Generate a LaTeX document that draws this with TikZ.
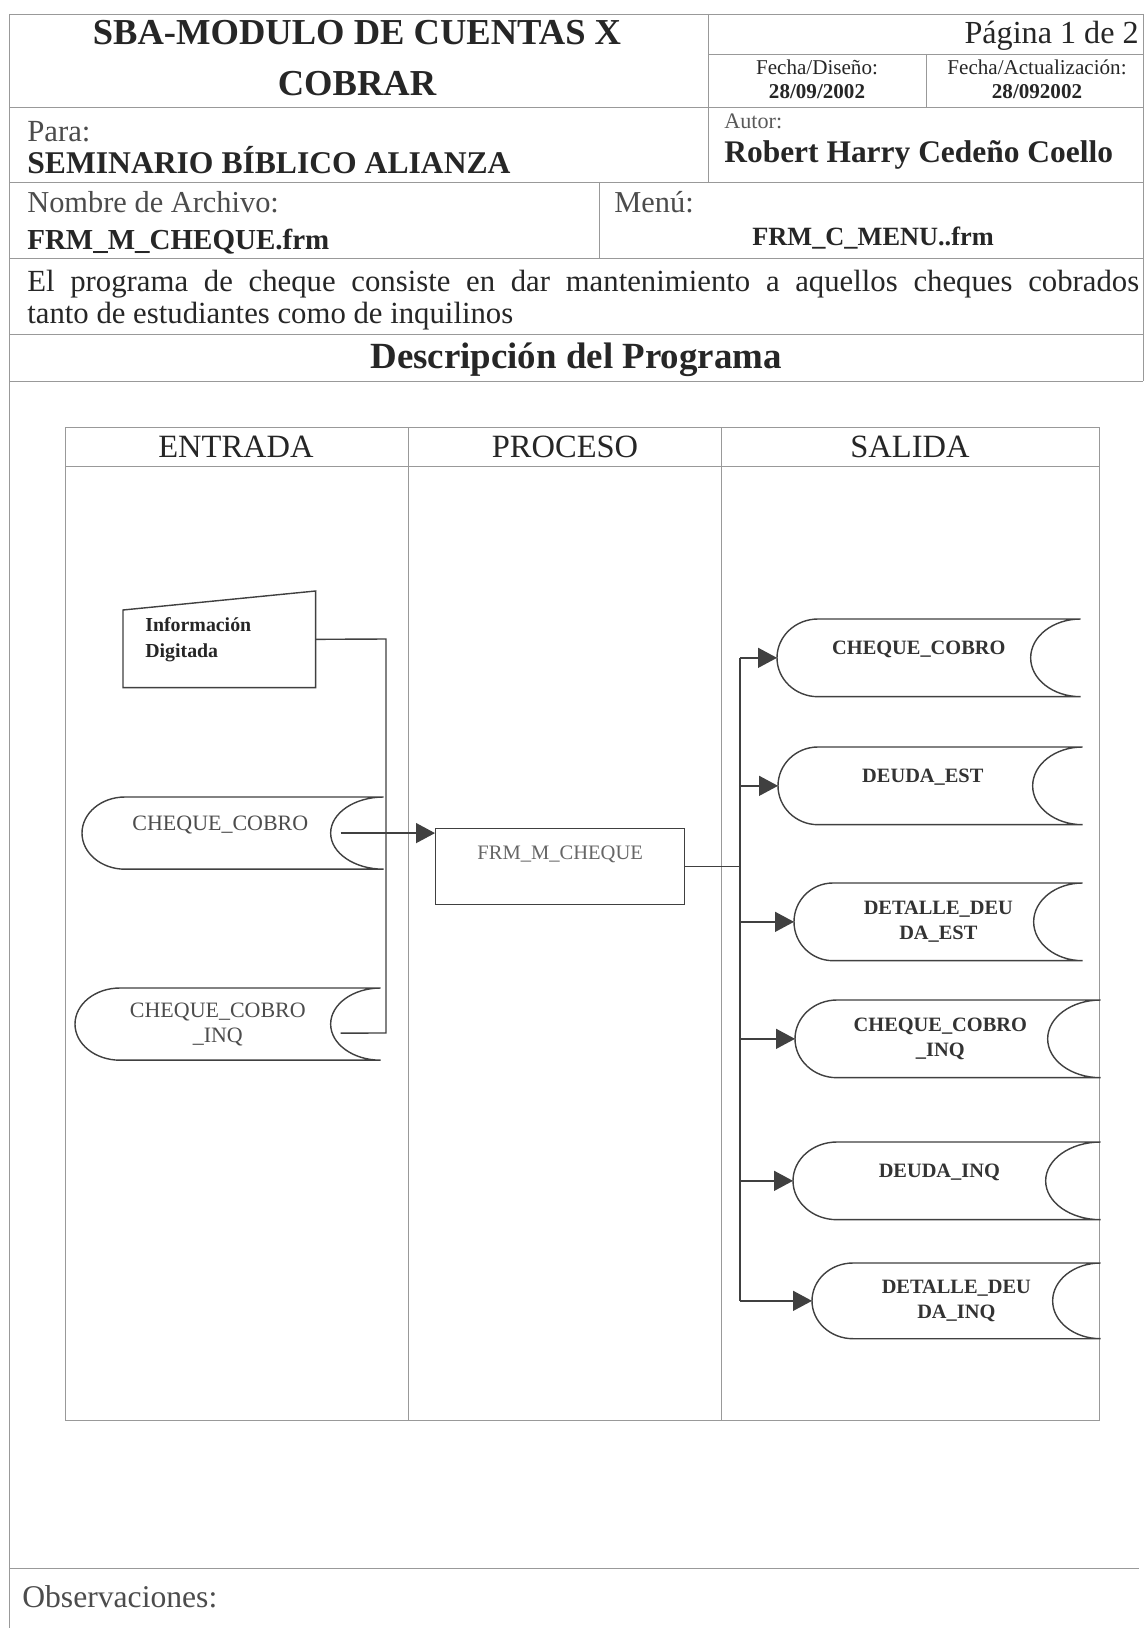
\documentclass[tikz,border=0pt]{standalone}
\usepackage{fontspec}
\setmainfont{Liberation Serif}
\usetikzlibrary{arrows.meta,calc,positioning}

\newcommand{\tam}[2]{\fontsize{#1}{#2}\selectfont}

\tikzset{
  marco/.style={draw=black!40, line width=0.5pt},
  linea/.style={draw=black!75, line width=0.8pt},
  flecha/.style={linea, -{Triangle[length=0.38cm, width=0.4cm]}},
  texto/.style={inner sep=0pt, text=black!85},
  almacen/.style={anchor=north west, inner sep=0pt, minimum height=1.54cm, align=center, text=black!80, font=\tam{11.6}{14.2}\bfseries},
  entalm/.style={almacen, minimum height=1.43cm, text=black!70, font=\tam{12.5}{14.2}},
  unalinea/.style={text depth=0.4cm},
  proceso/.style={draw=black!75, line width=0.8pt, anchor=north west, minimum width=4.98cm, minimum height=1.52cm, inner sep=0pt, text depth=0.56cm, text=black!60, font=\tam{11.7}{14}}
}

\begin{document}
\begin{tikzpicture}[x=0.02cm, y=0.02cm]
\path[fill=white] (0,0) rectangle (1145,-1628);
\useasboundingbox (0,0) rectangle (1145,-1628);

% cabecera
\draw[marco] (9,-14) -- (1143,-14);
\draw[marco] (9,-14) -- (9,-1628);
\draw[marco] (1143,-14) -- (1143,-381);
\draw[marco] (708,-14) -- (708,-182);
\draw[marco] (708,-54) -- (1143,-54);
\draw[marco] (926,-54) -- (926,-107);
\foreach \y in {107,182,258,334,381} \draw[marco] (9,-\y) -- (1143,-\y);
\draw[marco] (599,-182) -- (599,-258);
\draw[marco] (9,-1568) -- (1139,-1568);

\node[texto, font=\tam{20.8}{29}\bfseries, align=center] (titulo) at (357,-58.5) {SBA-MODULO DE CUENTAS X\\COBRAR};
\node[texto, anchor=base east, font=\tam{18.3}{22}] (pagina) at (1139,-44) {Página 1 de 2};
\node[texto, anchor=base, font=\tam{12}{14}] (fdis) at (817,-75) {Fecha/Diseño:};
\node[texto, anchor=base, font=\tam{12}{14}\bfseries] (fdisv) at (817,-99) {28/09/2002};
\node[texto, anchor=base, font=\tam{12}{14}] (fact) at (1037,-75) {Fecha/Actualización:};
\node[texto, anchor=base, font=\tam{12}{14}\bfseries] (factv) at (1037,-99) {28/092002};
\node[texto, anchor=base west, text=black!65, font=\tam{12.6}{15}] (autor) at (724,-129) {Autor:};
\node[texto, anchor=base west, font=\tam{17.9}{21}\bfseries] (autorv) at (724,-163) {Robert Harry Cedeño Coello};
\node[texto, anchor=base west, text=black!70, font=\tam{17.5}{21}] (para) at (27,-142) {Para:};
\node[texto, anchor=base west, font=\tam{18}{22}\bfseries] (parav) at (27,-174) {SEMINARIO BÍBLICO ALIANZA};
\node[texto, anchor=base west, text=black!70, font=\tam{17.3}{21}] (archivo) at (27,-213) {Nombre de Archivo:};
\node[texto, anchor=base west, font=\tam{16.5}{21}\bfseries] (archivov) at (27,-250) {FRM\_M\_CHEQUE.frm};
\node[texto, anchor=base west, text=black!70, font=\tam{17.3}{21}] (menu) at (614,-213) {Menú:};
\node[texto, anchor=base, font=\tam{15}{18}\bfseries] (menuv) at (873,-246) {FRM\_C\_MENU..frm};
\node[texto, anchor=north west, text width=22.24cm, align=justify, font=\tam{17.5}{18.2}] (desc) at (27,-270) {El programa de cheque consiste en dar mantenimiento a aquellos cheques cobrados\linebreak tanto de estudiantes como de inquilinos};
\node[texto, anchor=base, font=\tam{21}{25}\bfseries] (seccion) at (576,-369) {Descripción del Programa};
\node[texto, anchor=base west, text=black!70, font=\tam{18}{21}] (observ) at (22,-1607) {Observaciones:};

% carriles
\draw[marco] (65,-427) rectangle (1099,-1420);
\draw[marco] (65,-466) -- (1099,-466);
\draw[marco] (408,-427) -- (408,-1420);
\draw[marco] (721,-427) -- (721,-1420);
\node[texto, anchor=base, font=\tam{18.5}{22}] (hent) at (236,-457) {ENTRADA};
\node[texto, anchor=base, font=\tam{18.5}{22}] (hpro) at (565,-457) {PROCESO};
\node[texto, anchor=base, font=\tam{18.5}{22}] (hsal) at (910,-457) {SALIDA};

% entrada
\node[texto, anchor=north west, minimum width=3.84cm, minimum height=1.92cm, text width=2.96cm, inner xsep=0.44cm, align=left, font=\tam{11.3}{14.8}\bfseries] (ent1) at (123,-591) {Información\\Digitada};
\draw[linea] ($(ent1.north west)+(0,-19)$) -- (ent1.north east) -- (ent1.south east) -- (ent1.south west) -- cycle;
\node[entalm, unalinea, minimum width=6.02cm] (ent2) at (82,-797) {CHEQUE\_COBRO\hspace*{0.5cm}};
\node[entalm, minimum width=6.1cm] (ent3) at (75,-988) {CHEQUE\_COBRO\hspace*{0.4cm}\\\_INQ\hspace*{0.4cm}};

% proceso
\node[proceso] (proc) at (435,-828) {FRM\_M\_CHEQUE};

% salida
\node[almacen, unalinea, minimum width=6.06cm] (sal1) at (777,-619) {CHEQUE\_COBRO\hspace*{0.4cm}};
\node[almacen, unalinea, minimum width=6.08cm] (sal2) at (778,-747) {DEUDA\_EST\hspace*{0.3cm}};
\node[almacen, minimum width=5.76cm] (sal3) at (794,-883) {DETALLE\_DEU\\DA\_EST};
\node[almacen, minimum width=6.1cm] (sal4) at (795,-1000) {CHEQUE\_COBRO\hspace*{0.3cm}\\\_INQ\hspace*{0.3cm}};
\node[almacen, unalinea, minimum width=6.14cm] (sal5) at (793,-1142) {DEUDA\_INQ\hspace*{0.3cm}};
\node[almacen, minimum width=5.76cm, minimum height=1.5cm] (sal6) at (812,-1263) {DETALLE\_DEU\\DA\_INQ};

\foreach \nodo/\bul/\con in {ent2/0.86/1.06, ent3/0.9/1.0, sal1/0.82/1.0, sal2/0.8/1.0, sal3/0.78/0.98, sal4/0.84/1.06, sal5/0.88/1.1, sal6/0.82/0.96}
  \draw[linea] let \p1=($(\nodo.north)-(\nodo.south)$) in ($(\nodo.north west)+(\bul cm,0)$) -- (\nodo.north east)
    arc[start angle=90, end angle=270, x radius=\con cm, y radius=0.5*\y1]
    -- ($(\nodo.south west)+(\bul cm,0)$)
    arc[start angle=270, end angle=90, x radius=\bul cm, y radius=0.5*\y1];

% conectores
\coordinate (bi1) at (386,-639);
\coordinate (bi2) at (386,-1033);
\draw[linea] (ent1.east) -- (bi1) -- (bi2) -- ($(ent3.east)+(-40,-9)$);
\draw[flecha] ($(ent2.east)+(-43,0)$) -- (ent2.east -| proc.west);
\coordinate (bs) at (740,0);
\draw[linea] (proc.east) -- (proc.east -| bs);
\draw[linea] (sal1.west -| bs) -- (sal6.west -| bs);
\foreach \nodo in {sal1,sal2,sal3,sal4,sal5,sal6}
  \draw[flecha] (\nodo.west -| bs) -- (\nodo.west);
\end{tikzpicture}
\end{document}
